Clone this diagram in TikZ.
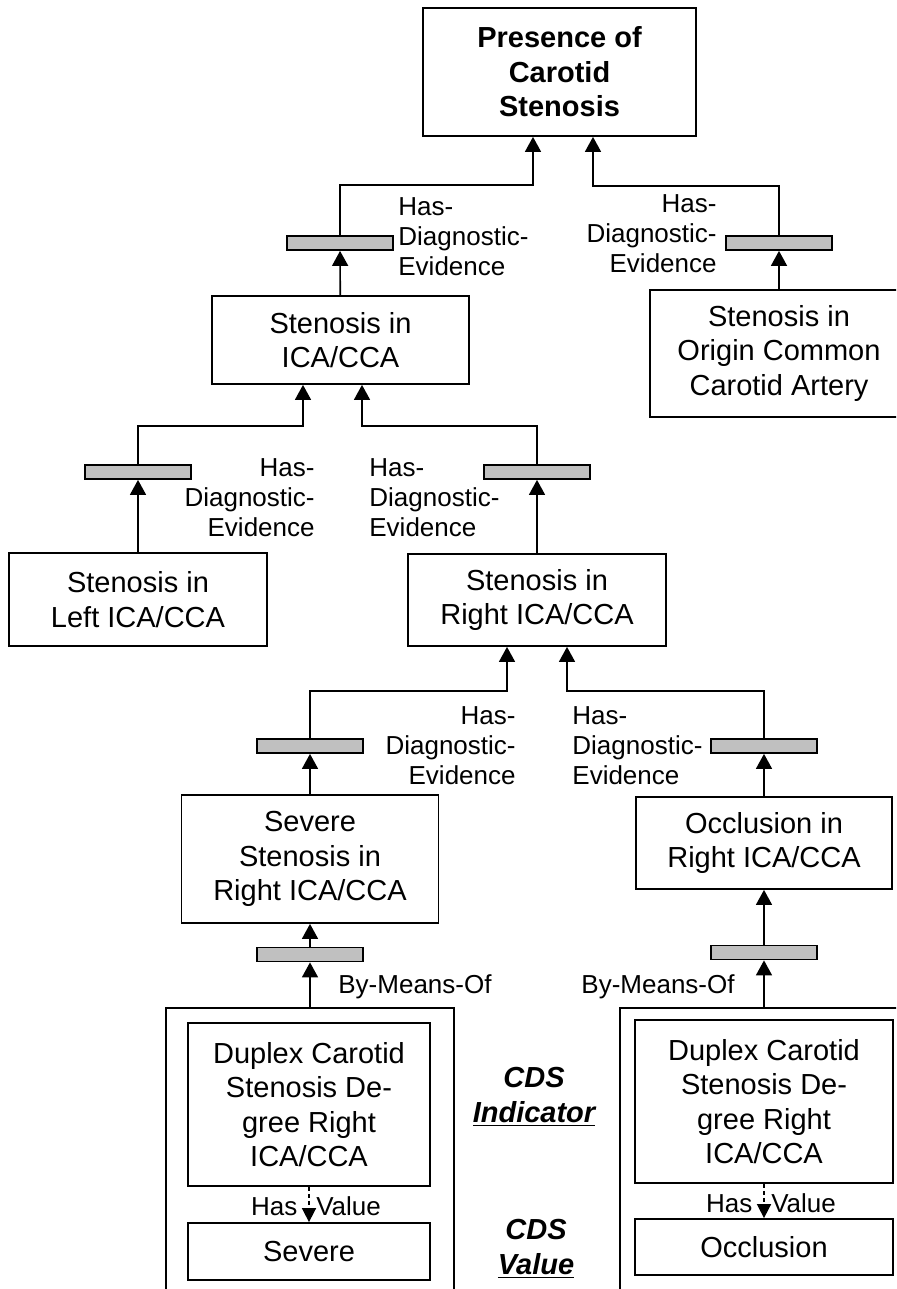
\documentclass[tikz,border=0pt]{standalone}
\usepackage{fontspec}
\setmainfont{Liberation Sans}
\usetikzlibrary{arrows.meta}
\definecolor{barfill}{RGB}{192,192,192}
\newcommand\boxfont{\fontsize{14.5}{17.25}\selectfont}
\newcommand\labfont{\fontsize{13}{15}\selectfont}
\begin{document}
\begin{tikzpicture}[x=0.5pt,y=-0.5pt,
  concept/.style={draw,line width=0.9pt,inner sep=0pt,align=center,font=\boxfont},
  relbar/.style={draw,fill=barfill,line width=0.9pt,inner sep=0pt,
    minimum width=53pt,minimum height=7pt},
  rellabel/.style={inner sep=0pt,font=\labfont},
  link/.style={line width=0.8pt,-{Triangle[width=8pt,length=7.5pt]}},
  hasval/.style={line width=0.8pt,dash pattern=on 2pt off 1.5pt,
    -{Triangle[width=7pt,length=7pt]}}]
            \useasboundingbox (0,0) rectangle (896,1289);
            \clip (0,0) rectangle (896,1289);
            \draw (559.5,72) node[concept,minimum width=136.5pt,minimum height=64pt,
             font=\boxfont\bfseries] (top) {Presence of\\Carotid\\Stenosis};
            \draw (340.5,340) node[concept,minimum width=128.5pt,minimum height=44pt]
             (ica) {Stenosis in\\ICA/CCA};
            \draw (779,353.5) node[concept,minimum width=129pt,minimum height=63.5pt]
             (origin) {Stenosis in\\Origin Common\\Carotid Artery};
            \draw (138,599.5) node[concept,minimum width=129pt,minimum height=46.5pt]
             (left) {Stenosis in\\Left ICA/CCA};
            \draw (537,600) node[concept,minimum width=129pt,minimum height=46pt]
             (right) {Stenosis in\\Right ICA/CCA};
            \draw (310,859) node[concept,minimum width=128.5pt,minimum height=64pt]
             (severe) {Severe\\Stenosis in\\Right ICA/CCA};
            \draw (764,843) node[concept,minimum width=128pt,minimum height=46pt]
             (occl) {Occlusion in\\Right ICA/CCA};

            \draw (310,1164) node[concept,minimum width=144pt,minimum height=156pt] (contL) {};
            \draw (764,1164) node[concept,minimum width=144pt,minimum height=156pt] (contR) {};
            \draw (309,1104.5) node[concept,minimum width=121pt,minimum height=81.5pt]
             (duplexL) {Duplex Carotid\\Stenosis De-\\gree Right\\ICA/CCA};
            \draw (764,1101.5) node[concept,minimum width=129pt,minimum height=81.5pt]
             (duplexR) {Duplex Carotid\\Stenosis De-\\gree Right\\ICA/CCA};
            \draw (309,1251.5) node[concept,minimum width=121pt,minimum height=28.5pt]
             (sevval) {Severe};
            \draw (764,1247) node[concept,minimum width=129pt,minimum height=28pt]
             (occval) {Occlusion};

            \draw (340,243) node[relbar] (barA) {};
            \draw (779,243) node[relbar] (barB) {};
            \draw (138,472) node[relbar] (barC) {};
            \draw (537,472) node[relbar] (barD) {};
            \draw (310,746) node[relbar] (barE) {};
            \draw (764,746) node[relbar] (barF) {};
            \draw (310,954.5) node[relbar] (barG) {};
            \draw (764,952.5) node[relbar] (barH) {};

            \draw[link] (ica) -- (barA);
            \draw[link] (barA) -- (barA |- 0,185) -| (533,0 |- top.south);
            \draw[link] (origin) -- (barB);
            \draw[link] (barB) -- (barB |- 0,186) -| (593,0 |- top.south);
            \draw[link] (left) -- (barC);
            \draw[link] (barC) -- (barC |- 0,426) -| (303,0 |- ica.south);
            \draw[link] (right) -- (barD);
            \draw[link] (barD) -- (barD |- 0,426) -| (362,0 |- ica.south);
            \draw[link] (severe) -- (barE);
            \draw[link] (barE) -- (barE |- 0,691) -| (507,0 |- right.south);
            \draw[link] (occl) -- (barF);
            \draw[link] (barF) -- (barF |- 0,691) -| (567,0 |- right.south);
            \draw[link] (barG) -- (severe);
            \draw[link] (contL) -- (barG);
            \draw[link] (barH) -- (occl);
            \draw[link] (contR) -- (barH);
            \draw[hasval] (duplexL) -- (sevval);
            \draw[hasval] (duplexR) -- (occval);

            \draw (398,237) node[rellabel,anchor=west,align=left] (labA)
             {Has-\\Diagnostic-\\Evidence};
            \draw (717,234) node[rellabel,anchor=east,align=right] (labB)
             {Has-\\Diagnostic-\\Evidence};
            \draw (315,498) node[rellabel,anchor=east,align=right] (labC)
             {Has-\\Diagnostic-\\Evidence};
            \draw (369,498) node[rellabel,anchor=west,align=left] (labD)
             {Has-\\Diagnostic-\\Evidence};
            \draw (516,746) node[rellabel,anchor=east,align=right] (labE)
             {Has-\\Diagnostic-\\Evidence};
            \draw (572,746) node[rellabel,anchor=west,align=left] (labF)
             {Has-\\Diagnostic-\\Evidence};
            \draw (338,987) node[rellabel,anchor=west] (labG) {By-Means-Of};
            \draw (735,987) node[rellabel,anchor=east] (labH) {By-Means-Of};
            \draw (316,1206) node[rellabel] (labI) {Has\hspace{0.73em}Value};
            \draw (771,1203) node[rellabel] (labJ) {Has\hspace{0.73em}Value};

            \draw (534,1097) node[rellabel,align=center,font=\boxfont\bfseries\itshape]
             (cdsind) {CDS\\\underline{Indicator}};
            \draw (536,1249) node[rellabel,align=center,font=\boxfont\bfseries\itshape]
             (cdsval) {CDS\\\underline{Value}};
            \end{tikzpicture}
\end{document}
